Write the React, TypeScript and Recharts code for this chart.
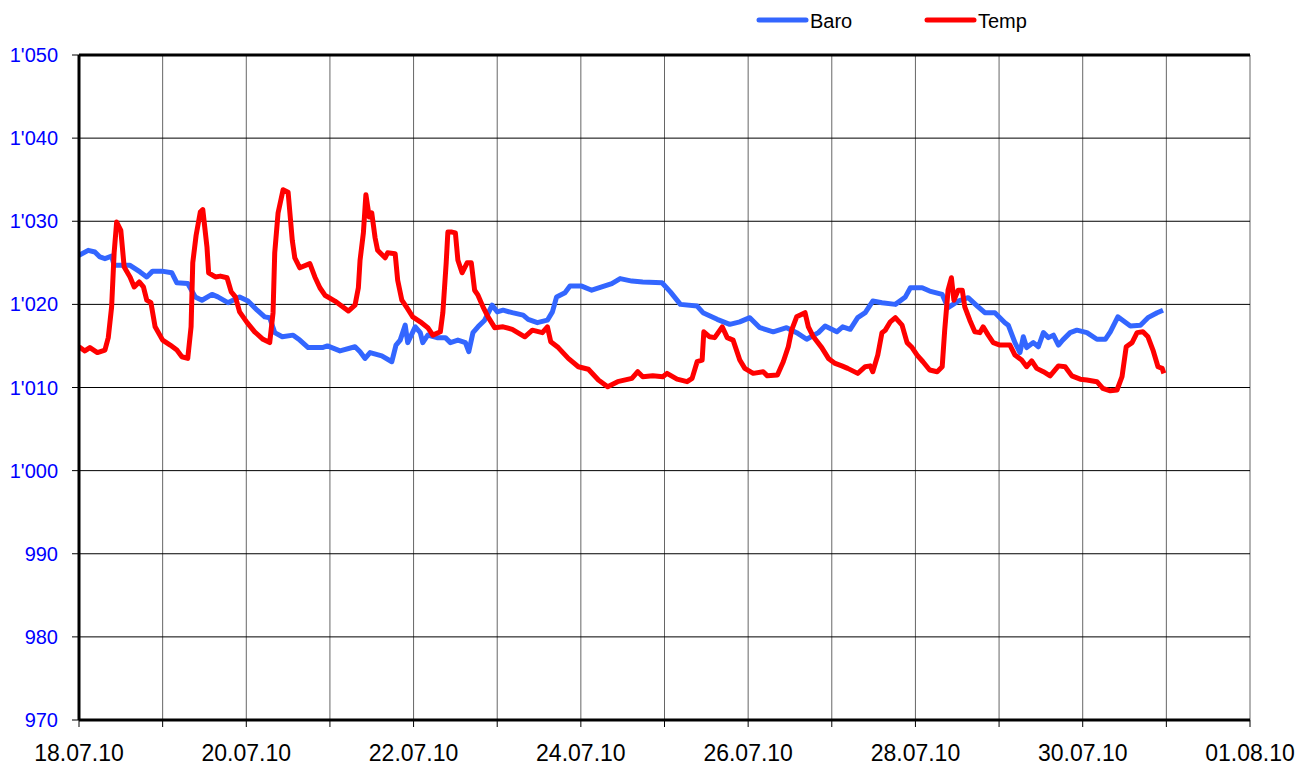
import { CartesianGrid, Legend, Line, LineChart, ReferenceLine, XAxis, YAxis } from "recharts";

// days since 18.07.10 00:00
const baroDays = [
  0.0, 0.11, 0.19, 0.25, 0.31, 0.39, 0.42, 0.61, 0.73, 0.81, 0.88, 0.99, 1.11, 1.17, 1.3, 1.39, 1.47, 1.59, 1.66,
  1.78, 1.92, 2.02, 2.13, 2.22, 2.28, 2.34, 2.43, 2.56, 2.64, 2.74, 2.91, 2.97, 3.12, 3.3, 3.36, 3.42, 3.48, 3.62,
  3.74, 3.79, 3.84, 3.9, 3.93, 4.02, 4.08, 4.11, 4.17, 4.28, 4.38, 4.44, 4.53, 4.62, 4.66, 4.71, 4.77, 4.85, 4.94,
  5.0, 5.07, 5.18, 5.31, 5.37, 5.48, 5.6, 5.66, 5.71, 5.81, 5.87, 6.01, 6.13, 6.25, 6.37, 6.47, 6.61, 6.74, 6.97,
  7.07, 7.19, 7.39, 7.46, 7.63, 7.78, 7.9, 8.02, 8.14, 8.3, 8.46, 8.58, 8.7, 8.84, 8.92, 9.06, 9.13, 9.22, 9.31,
  9.4, 9.49, 9.6, 9.76, 9.88, 9.94, 10.08, 10.17, 10.32, 10.39, 10.51, 10.63, 10.74, 10.83, 10.95, 11.07, 11.11,
  11.19, 11.25, 11.29, 11.33, 11.41, 11.47, 11.53, 11.59, 11.65, 11.71, 11.76, 11.85, 11.93, 12.05, 12.17, 12.27,
  12.33, 12.42, 12.57, 12.69, 12.78, 12.89, 12.96,
];
const baroValues = [
  1025.9, 1026.5, 1026.3, 1025.7, 1025.5, 1025.8, 1024.7, 1024.7, 1023.9, 1023.3, 1024.0, 1024.0, 1023.8, 1022.6,
  1022.5, 1020.9, 1020.5, 1021.2, 1020.9, 1020.2, 1020.9, 1020.4, 1019.3, 1018.5, 1018.4, 1016.6, 1016.1, 1016.3,
  1015.7, 1014.8, 1014.8, 1015.0, 1014.4, 1014.9, 1014.3, 1013.5, 1014.2, 1013.8, 1013.1, 1015.1, 1015.7, 1017.5,
  1015.4, 1017.3, 1016.6, 1015.4, 1016.3, 1016.0, 1016.0, 1015.4, 1015.7, 1015.4, 1014.3, 1016.6, 1017.3, 1018.1,
  1019.9, 1019.1, 1019.3, 1019.0, 1018.7, 1018.2, 1017.8, 1018.1, 1019.1, 1020.9, 1021.4, 1022.2, 1022.2, 1021.7,
  1022.1, 1022.5, 1023.1, 1022.8, 1022.7, 1022.6, 1021.5, 1020.0, 1019.8, 1019.0, 1018.2, 1017.6, 1017.9, 1018.4,
  1017.2, 1016.7, 1017.2, 1016.6, 1015.8, 1016.6, 1017.4, 1016.7, 1017.3, 1017.0, 1018.4, 1019.0, 1020.4, 1020.2,
  1020.0, 1020.9, 1022.0, 1022.0, 1021.6, 1021.2, 1019.6, 1020.4, 1020.8, 1019.8, 1019.0, 1019.0, 1017.8, 1017.5,
  1015.4, 1014.2, 1016.1, 1014.8, 1015.4, 1014.9, 1016.6, 1016.0, 1016.3, 1015.1, 1015.7, 1016.6, 1016.9, 1016.6,
  1015.8, 1015.8, 1016.7, 1018.5, 1017.4, 1017.5, 1018.4, 1019.0, 1019.3,
];

const tempDays = [
  0.0, 0.07, 0.13, 0.22, 0.31, 0.35, 0.39, 0.42, 0.45, 0.5, 0.54, 0.61, 0.66, 0.72, 0.77, 0.81, 0.86, 0.91, 1.0,
  1.09, 1.17, 1.23, 1.3, 1.34, 1.36, 1.4, 1.45, 1.48, 1.53, 1.55, 1.63, 1.69, 1.77, 1.82, 1.87, 1.92, 2.01, 2.1,
  2.2, 2.28, 2.32, 2.34, 2.38, 2.44, 2.5, 2.55, 2.58, 2.64, 2.76, 2.82, 2.88, 2.94, 3.06, 3.14, 3.22, 3.3, 3.34,
  3.36, 3.4, 3.43, 3.47, 3.5, 3.54, 3.57, 3.66, 3.69, 3.78, 3.81, 3.86, 3.92, 3.99, 4.08, 4.17, 4.23, 4.32, 4.35,
  4.39, 4.41, 4.46, 4.5, 4.53, 4.58, 4.64, 4.69, 4.73, 4.77, 4.83, 4.89, 4.97, 5.07, 5.18, 5.33, 5.42, 5.54, 5.6,
  5.64, 5.73, 5.85, 5.97, 6.09, 6.21, 6.32, 6.44, 6.61, 6.68, 6.74, 6.86, 6.98, 7.03, 7.15, 7.27, 7.33, 7.39, 7.45,
  7.47, 7.54, 7.6, 7.69, 7.75, 7.82, 7.9, 7.96, 8.06, 8.18, 8.23, 8.35, 8.42, 8.48, 8.52, 8.58, 8.68, 8.72, 8.78,
  8.88, 8.96, 9.04, 9.12, 9.19, 9.31, 9.4, 9.46, 9.49, 9.55, 9.6, 9.64, 9.7, 9.76, 9.84, 9.9, 9.96, 10.02, 10.09,
  10.17, 10.26, 10.32, 10.35, 10.39, 10.43, 10.46, 10.51, 10.56, 10.59, 10.65, 10.71, 10.77, 10.81, 10.87, 10.93,
  11.01, 11.13, 11.19, 11.27, 11.33, 11.39, 11.45, 11.53, 11.61, 11.71, 11.79, 11.87, 11.97, 12.05, 12.17, 12.24,
  12.33, 12.41, 12.47, 12.52, 12.59, 12.65, 12.72, 12.78, 12.84, 12.9, 12.95, 12.97,
];
const tempValues = [
  1014.9, 1014.4, 1014.8, 1014.2, 1014.5, 1016.0, 1019.7, 1026.2, 1029.9, 1028.9, 1024.5, 1023.3, 1022.1, 1022.7,
  1022.1, 1020.5, 1020.2, 1017.3, 1015.7, 1015.1, 1014.5, 1013.7, 1013.5, 1017.3, 1025.0, 1028.3, 1031.1, 1031.4,
  1026.9, 1023.8, 1023.3, 1023.4, 1023.2, 1021.5, 1020.9, 1019.1, 1017.8, 1016.7, 1015.8, 1015.4, 1019.0, 1026.2,
  1031.0, 1033.8, 1033.5, 1027.7, 1025.6, 1024.4, 1024.9, 1023.3, 1022.0, 1021.1, 1020.4, 1019.8, 1019.2, 1019.9,
  1022.0, 1025.3, 1028.6, 1033.2, 1030.5, 1031.0, 1028.0, 1026.5, 1025.6, 1026.2, 1026.1, 1022.9, 1020.5, 1019.6,
  1018.5, 1017.9, 1017.2, 1016.3, 1016.7, 1019.0, 1025.0, 1028.7, 1028.7, 1028.6, 1025.3, 1023.8, 1025.0, 1025.0,
  1021.7, 1021.1, 1019.7, 1018.5, 1017.2, 1017.3, 1017.0, 1016.1, 1016.9, 1016.6, 1017.3, 1015.5, 1014.8, 1013.5,
  1012.5, 1012.2, 1010.9, 1010.1, 1010.7, 1011.1, 1011.9, 1011.3, 1011.4, 1011.3, 1011.7, 1011.0, 1010.7, 1011.1,
  1013.1, 1013.3, 1016.7, 1016.1, 1016.0, 1017.3, 1016.0, 1015.7, 1013.3, 1012.3, 1011.7, 1011.9, 1011.4, 1011.5,
  1013.1, 1014.9, 1016.9, 1018.5, 1019.0, 1017.3, 1016.1, 1014.8, 1013.5, 1012.9, 1012.6, 1012.3, 1011.7, 1012.5,
  1012.6, 1011.9, 1013.9, 1016.6, 1016.9, 1017.9, 1018.4, 1017.5, 1015.4, 1014.8, 1013.9, 1013.1, 1012.1, 1011.9,
  1012.5, 1016.9, 1021.7, 1023.2, 1020.5, 1021.7, 1021.7, 1019.7, 1018.1, 1016.7, 1016.6, 1017.3, 1016.3, 1015.4,
  1015.1, 1015.1, 1013.9, 1013.3, 1012.5, 1013.2, 1012.3, 1011.9, 1011.4, 1012.6, 1012.5, 1011.4, 1011.0, 1010.9,
  1010.7, 1009.9, 1009.6, 1009.7, 1011.3, 1014.9, 1015.4, 1016.6, 1016.7, 1016.1, 1014.5, 1012.5, 1012.3, 1011.7,
];

const dayTicks = [0, 1, 2, 3, 4, 5, 6, 7, 8, 9, 10, 11, 12, 13, 14];
const dayLabels = [
  "18.07.10", "", "20.07.10", "", "22.07.10", "", "24.07.10", "", "26.07.10", "", "28.07.10", "", "30.07.10", "",
  "01.08.10",
];
const valueTicks = [970, 980, 990, 1000, 1010, 1020, 1030, 1040, 1050];

const baroData = baroDays.map((t, i) => ({ t, v: baroValues[i] }));
const tempData = tempDays.map((t, i) => ({ t, v: tempValues[i] }));

const FONT = '"Liberation Sans", Arial, sans-serif';
const BARO = "#3366ff";
const TEMP = "#ff0000";

const fmtValue = (v: number) => String(v).replace(/\B(?=(\d{3})+(?!\d))/g, "'");

const legendX = [759, 927];

function renderLegend(props: any) {
  const items = props.payload || [];
  return (
    <svg width={1315} height={40} style={{ display: "block" }}>
      {items.map((item: any, i: number) => (
        <g key={item.value}>
          <line
            x1={legendX[i]}
            x2={legendX[i] + 47}
            y1={20}
            y2={20}
            stroke={item.color}
            strokeWidth={5}
            strokeLinecap="round"
          />
          <text x={legendX[i] + 51} y={28} fontFamily={FONT} fontSize={20} fill="#000">
            {item.value}
          </text>
        </g>
      ))}
    </svg>
  );
}

export default function App() {
  return (
    <div style={{ position: "absolute", left: 0, top: 0, width: 1315, height: 767, background: "#fff" }}>
      <LineChart width={1315} height={767} margin={{ top: 55, right: 65, bottom: 0, left: 0 }}>
        <CartesianGrid vertical={true} horizontal={false} stroke="#666" strokeWidth={1} />
        <CartesianGrid vertical={false} horizontal={true} stroke="#000" strokeWidth={1} />
        <XAxis
          type="number"
          dataKey="t"
          domain={[0, 14]}
          ticks={dayTicks}
          interval={0}
          allowDataOverflow
          tickFormatter={(d: number) => dayLabels[d] ?? ""}
          height={47}
          tickSize={7}
          tickMargin={18}
          axisLine={{ stroke: "#000", strokeWidth: 3 }}
          tickLine={{ stroke: "#000", strokeWidth: 1 }}
          tick={{ fill: "#000", fontSize: 23, fontFamily: FONT }}
        />
        <YAxis
          type="number"
          domain={[970, 1050]}
          ticks={valueTicks}
          interval={0}
          allowDataOverflow
          tickFormatter={fmtValue}
          width={79}
          tickSize={7}
          tickMargin={14}
          axisLine={{ stroke: "#000", strokeWidth: 3 }}
          tickLine={{ stroke: "#000", strokeWidth: 1 }}
          tick={{ fill: "#0000ff", fontSize: 20, fontFamily: FONT }}
        />
        <ReferenceLine y={1050} stroke="#000" strokeWidth={3} />
        <Legend
          content={renderLegend}
          layout="horizontal"
          verticalAlign="middle"
          align="center"
          wrapperStyle={{ top: 0, left: 0, width: 1315, height: 40 }}
        />
        <Line
          data={baroData}
          dataKey="v"
          name="Baro"
          type="linear"
          stroke={BARO}
          strokeWidth={5}
          strokeLinejoin="round"
          dot={false}
          activeDot={false}
          isAnimationActive={false}
        />
        <Line
          data={tempData}
          dataKey="v"
          name="Temp"
          type="linear"
          stroke={TEMP}
          strokeWidth={5}
          strokeLinejoin="round"
          dot={false}
          activeDot={false}
          isAnimationActive={false}
        />
      </LineChart>
    </div>
  );
}
